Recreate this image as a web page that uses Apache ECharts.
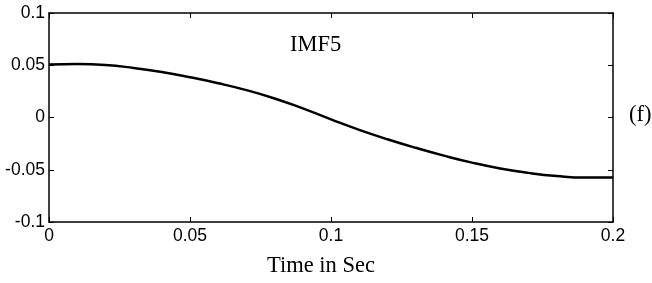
<!DOCTYPE html>
<html><head><meta charset="utf-8">
<script src="https://cdn.jsdelivr.net/npm/echarts@6/dist/echarts.min.js"></script>
<style>html,body{margin:0;padding:0;background:#fff}#c{width:652px;height:283px}</style>
</head><body><div id="c"></div>
<script>
var timeSec = [0,0.01,0.02,0.03,0.04,0.05,0.06,0.07,0.08,0.09,0.10,0.11,0.12,0.13,0.14,0.15,0.16,0.17,0.18,0.19,0.20];
var imf5 = [0.0507,0.0512,0.0503,0.0474,0.0435,0.0385,0.0328,0.0262,0.0182,0.0087,-0.0018,-0.0118,-0.0208,-0.0290,-0.0365,-0.0432,-0.0488,-0.0530,-0.0560,-0.0575,-0.0574];
var xTicks = [0,0.05,0.1,0.15,0.2];
var yTicks = [-0.1,-0.05,0,0.05,0.1];
var seriesName = 'IMF5';
var xTitle = 'Time in Sec';
var sideTag = '(f)';

var chart = echarts.init(document.getElementById('c'), null, {renderer:'canvas'});
var lab = {color:'#000', fontFamily:'Liberation Sans, Arial', fontSize:17.5};
function fmt(v){ return String(Math.round(v*1000)/1000); }
var serifFont = '22.5px "Liberation Serif", "Times New Roman", serif';
chart.setOption({
  animation:false,
  grid:{left:49, right:39, top:13, bottom:61, show:false},
  graphic:[
    {type:'text', left:290, top:34, style:{text:seriesName, fill:'#000', font:serifFont}},
    {type:'text', left:629, top:104, style:{text:sideTag, fill:'#000', font:serifFont}},
    {type:'text', left:267, top:255, style:{text:xTitle, fill:'#000', font:serifFont}}
  ],
  xAxis:[
    {type:'value', min:0, max:0.2, interval:0.05, position:'bottom',
     axisLine:{onZero:false, lineStyle:{color:'#000', width:1.5}}, axisTick:{inside:true, length:5, lineStyle:{color:'#000'}},
     splitLine:{show:false}, axisLabel:Object.assign({margin:5, formatter:fmt}, lab)},
    {type:'value', min:0, max:0.2, interval:0.05, position:'top',
     axisLine:{onZero:false, lineStyle:{color:'#000', width:1.5}}, axisTick:{inside:true, length:5, lineStyle:{color:'#000'}},
     splitLine:{show:false}, axisLabel:{show:false}}
  ],
  yAxis:[
    {type:'value', min:-0.1, max:0.1, interval:0.05, position:'left',
     axisLine:{show:true, onZero:false, lineStyle:{color:'#000', width:1.5}}, axisTick:{show:true, inside:true, length:5, lineStyle:{color:'#000'}},
     splitLine:{show:false}, axisLabel:Object.assign({margin:4, formatter:fmt}, lab)},
    {type:'value', min:-0.1, max:0.1, interval:0.05, position:'right',
     axisLine:{show:true, onZero:false, lineStyle:{color:'#000', width:1.5}}, axisTick:{show:true, inside:true, length:5, lineStyle:{color:'#000'}},
     splitLine:{show:false}, axisLabel:{show:false}}
  ],
  series:[{
    name:seriesName, type:'line', smooth:true, showSymbol:false,
    xAxisIndex:0, yAxisIndex:0,
    lineStyle:{color:'#000', width:2.5},
    data: timeSec.map(function(t,i){ return [t, imf5[i]]; })
  }]
});
</script></body></html>
